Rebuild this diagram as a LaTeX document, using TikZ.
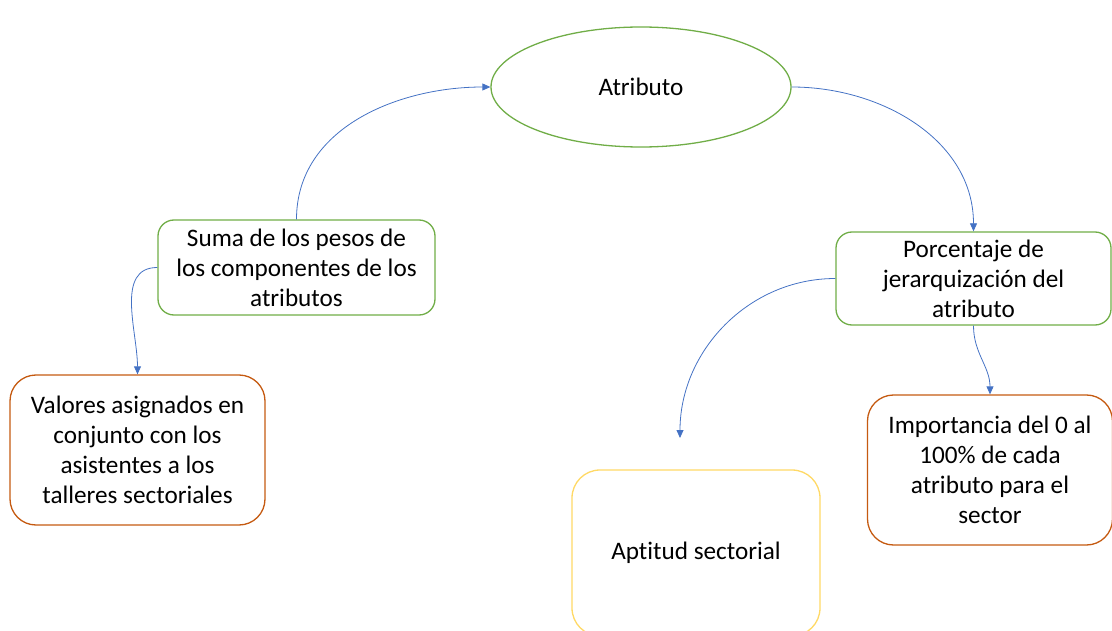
\documentclass[tikz,border=0pt]{standalone}
\usepackage{fontspec}
\setmainfont{Carlito}[Ligatures=NoCommon]
\usepackage{tikz}
\usetikzlibrary{shapes.geometric,arrows.meta}
\definecolor{verde}{RGB}{112,173,71}
\definecolor{naranja}{RGB}{197,90,17}
\definecolor{amarillo}{RGB}{255,217,102}
\definecolor{azul}{RGB}{68,114,196}

\begin{document}
\begin{tikzpicture}[x=1pt, y=1pt,
    font=\fontsize{25.2}{30}\selectfont,
    caja/.style={draw, line width=1.3pt, rounded corners=#1, align=center, inner sep=0pt},
    enlace/.style={azul, line width=0.8pt, -{Triangle[length=8pt,width=7pt]}}]
  \useasboundingbox (0,0) rectangle (1112,-631);
  % El atributo, arriba al centro.
  \node[ellipse, draw=verde, line width=1.3pt, minimum width=300, minimum height=120]
    (atributo) at (641,-87) {Atributo};
  % Las cajas verdes del segundo nivel.
  \node[caja=16pt, draw=verde, minimum width=277, minimum height=95]
    (suma) at (296.5,-267.5) {Suma de los pesos de\\los componentes de los\\atributos};
  \node[caja=16pt, draw=verde, minimum width=275, minimum height=93]
    (porcentaje) at (973.5,-278.5) {Porcentaje de\\jerarquización del\\atributo};
  % Las cajas naranjas y la amarilla de abajo.
  \node[caja=26pt, draw=naranja, minimum width=255, minimum height=150]
    (valores) at (137.5,-450) {Valores asignados en\\conjunto con los\\asistentes a los\\talleres sectoriales};
  \node[caja=26pt, draw=naranja, minimum width=245, minimum height=150]
    (importancia) at (990,-470) {Importancia del 0 al\\100\% de cada\\atributo para el\\sector};
  \node[caja=28pt, draw=amarillo, minimum width=248, minimum height=166]
    (aptitud) at (696,-553) {Aptitud sectorial};
  % La flecha que no llega a la caja amarilla.
  \coordinate (suelta) at (680,-438);
  % Los enlaces.
  \draw[enlace] (suma.north) to[out=90, in=180] (atributo.west);
  \draw[enlace] (atributo.east) to[out=0, in=90] (porcentaje.north);
  \draw[enlace] (suma.west) to[out=180, in=90] (valores.north);
  \draw[enlace] (porcentaje.west) to[out=180, in=90] (suelta);
  \draw[enlace] (porcentaje.south) to[out=-90, in=90] (importancia.north);
\end{tikzpicture}
\end{document}
